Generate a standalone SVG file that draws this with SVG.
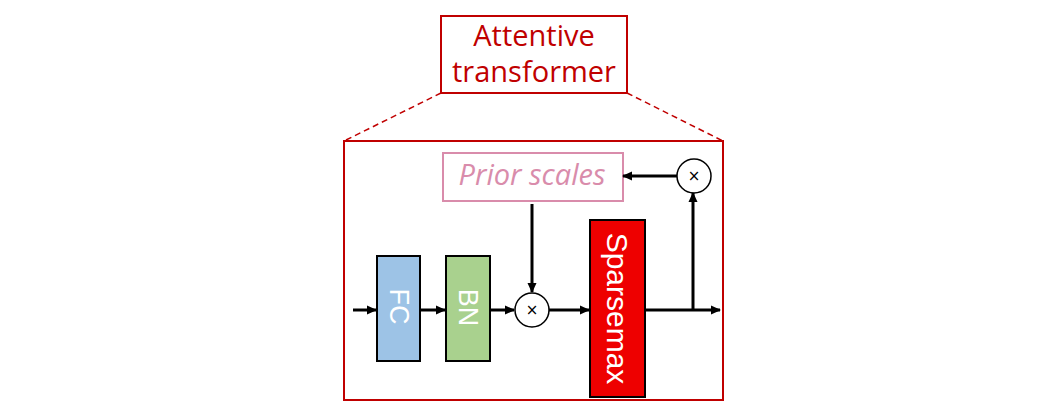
<svg xmlns="http://www.w3.org/2000/svg" width="1061" height="417" viewBox="0 0 1061 417">
<style>
.red{fill:none;stroke:#C00000;stroke-width:2}
.blk{stroke:#000;stroke-width:2}
.ln{fill:none;stroke:#000;stroke-width:3}
.lbl{font-family:"Liberation Sans",Arial,sans-serif;fill:#fff;text-anchor:middle;dominant-baseline:central}
.x{font-family:"DejaVu Sans",sans-serif;font-size:15px;text-anchor:middle;dominant-baseline:central;fill:#000}
.tw{font-family:"Open Sans","Liberation Sans",sans-serif;text-anchor:middle}
</style>
<defs>
<marker id="ah" markerWidth="10" markerHeight="10" refX="9" refY="5" orient="auto" markerUnits="userSpaceOnUse" viewBox="0 0 10 10">
<path d="M0,0.5 L10,5 L0,9.5 Z" fill="#000"/>
</marker>
</defs>
<rect width="1061" height="417" fill="#fff"/>
<g id="title">
<rect class="red" x="441" y="16" width="186" height="77"/>
<text class="tw" x="534" y="46" font-size="29" fill="#C00000">Attentive</text>
<text class="tw" x="534" y="82" font-size="29" fill="#C00000">transformer</text>
</g>
<g id="zoom-lines">
<line x1="441" y1="93" x2="344" y2="141" stroke="#C00000" stroke-width="1.5" stroke-dasharray="6,4"/>
<line x1="627" y1="93" x2="723" y2="141" stroke="#C00000" stroke-width="1.5" stroke-dasharray="6,4"/>
</g>
<g id="container">
<rect class="red" x="344" y="141" width="379" height="259"/>
</g>
<g id="prior">
<rect x="443" y="153" width="180" height="48" fill="#fff" stroke="#D98CAB" stroke-width="2"/>
<text class="tw" x="532" y="185" font-size="29" font-style="italic" fill="#D98CAB">Prior scales</text>
</g>
<g id="fc">
<rect class="blk" x="377" y="256" width="43" height="105" fill="#9DC3E6"/>
<text class="lbl" font-size="27" transform="translate(398.5,306.5) rotate(90)">FC</text>
</g>
<g id="bn">
<rect class="blk" x="446" y="256" width="44" height="105" fill="#A9D18E"/>
<text class="lbl" font-size="27" transform="translate(468,307.5) rotate(90)">BN</text>
</g>
<g id="mult1">
<circle cx="532" cy="310" r="17" fill="#fff" stroke="#000" stroke-width="1.5"/>
<text class="x" x="532" y="310">×</text>
</g>
<g id="sparsemax">
<rect class="blk" x="590" y="220" width="55" height="177" fill="#EE0000"/>
<text class="lbl" font-size="30" transform="translate(617.5,308.5) rotate(90)">Sparsemax</text>
</g>
<g id="mult2">
<circle cx="694" cy="176" r="17" fill="#fff" stroke="#000" stroke-width="1.5"/>
<text class="x" x="694" y="176">×</text>
</g>
<g id="connectors">
<line class="ln" x1="353" y1="310" x2="376" y2="310" marker-end="url(#ah)"/>
<line class="ln" x1="421" y1="310" x2="445" y2="310" marker-end="url(#ah)"/>
<line class="ln" x1="491" y1="310" x2="514" y2="310" marker-end="url(#ah)"/>
<line class="ln" x1="549" y1="310" x2="589" y2="310" marker-end="url(#ah)"/>
<line class="ln" x1="645" y1="310" x2="720" y2="310" marker-end="url(#ah)"/>
<line class="ln" x1="532" y1="204" x2="532" y2="292" marker-end="url(#ah)"/>
<line class="ln" x1="693" y1="311" x2="693" y2="193" marker-end="url(#ah)"/>
<line class="ln" x1="677" y1="176" x2="623" y2="176" marker-end="url(#ah)"/>
</g>
</svg>
